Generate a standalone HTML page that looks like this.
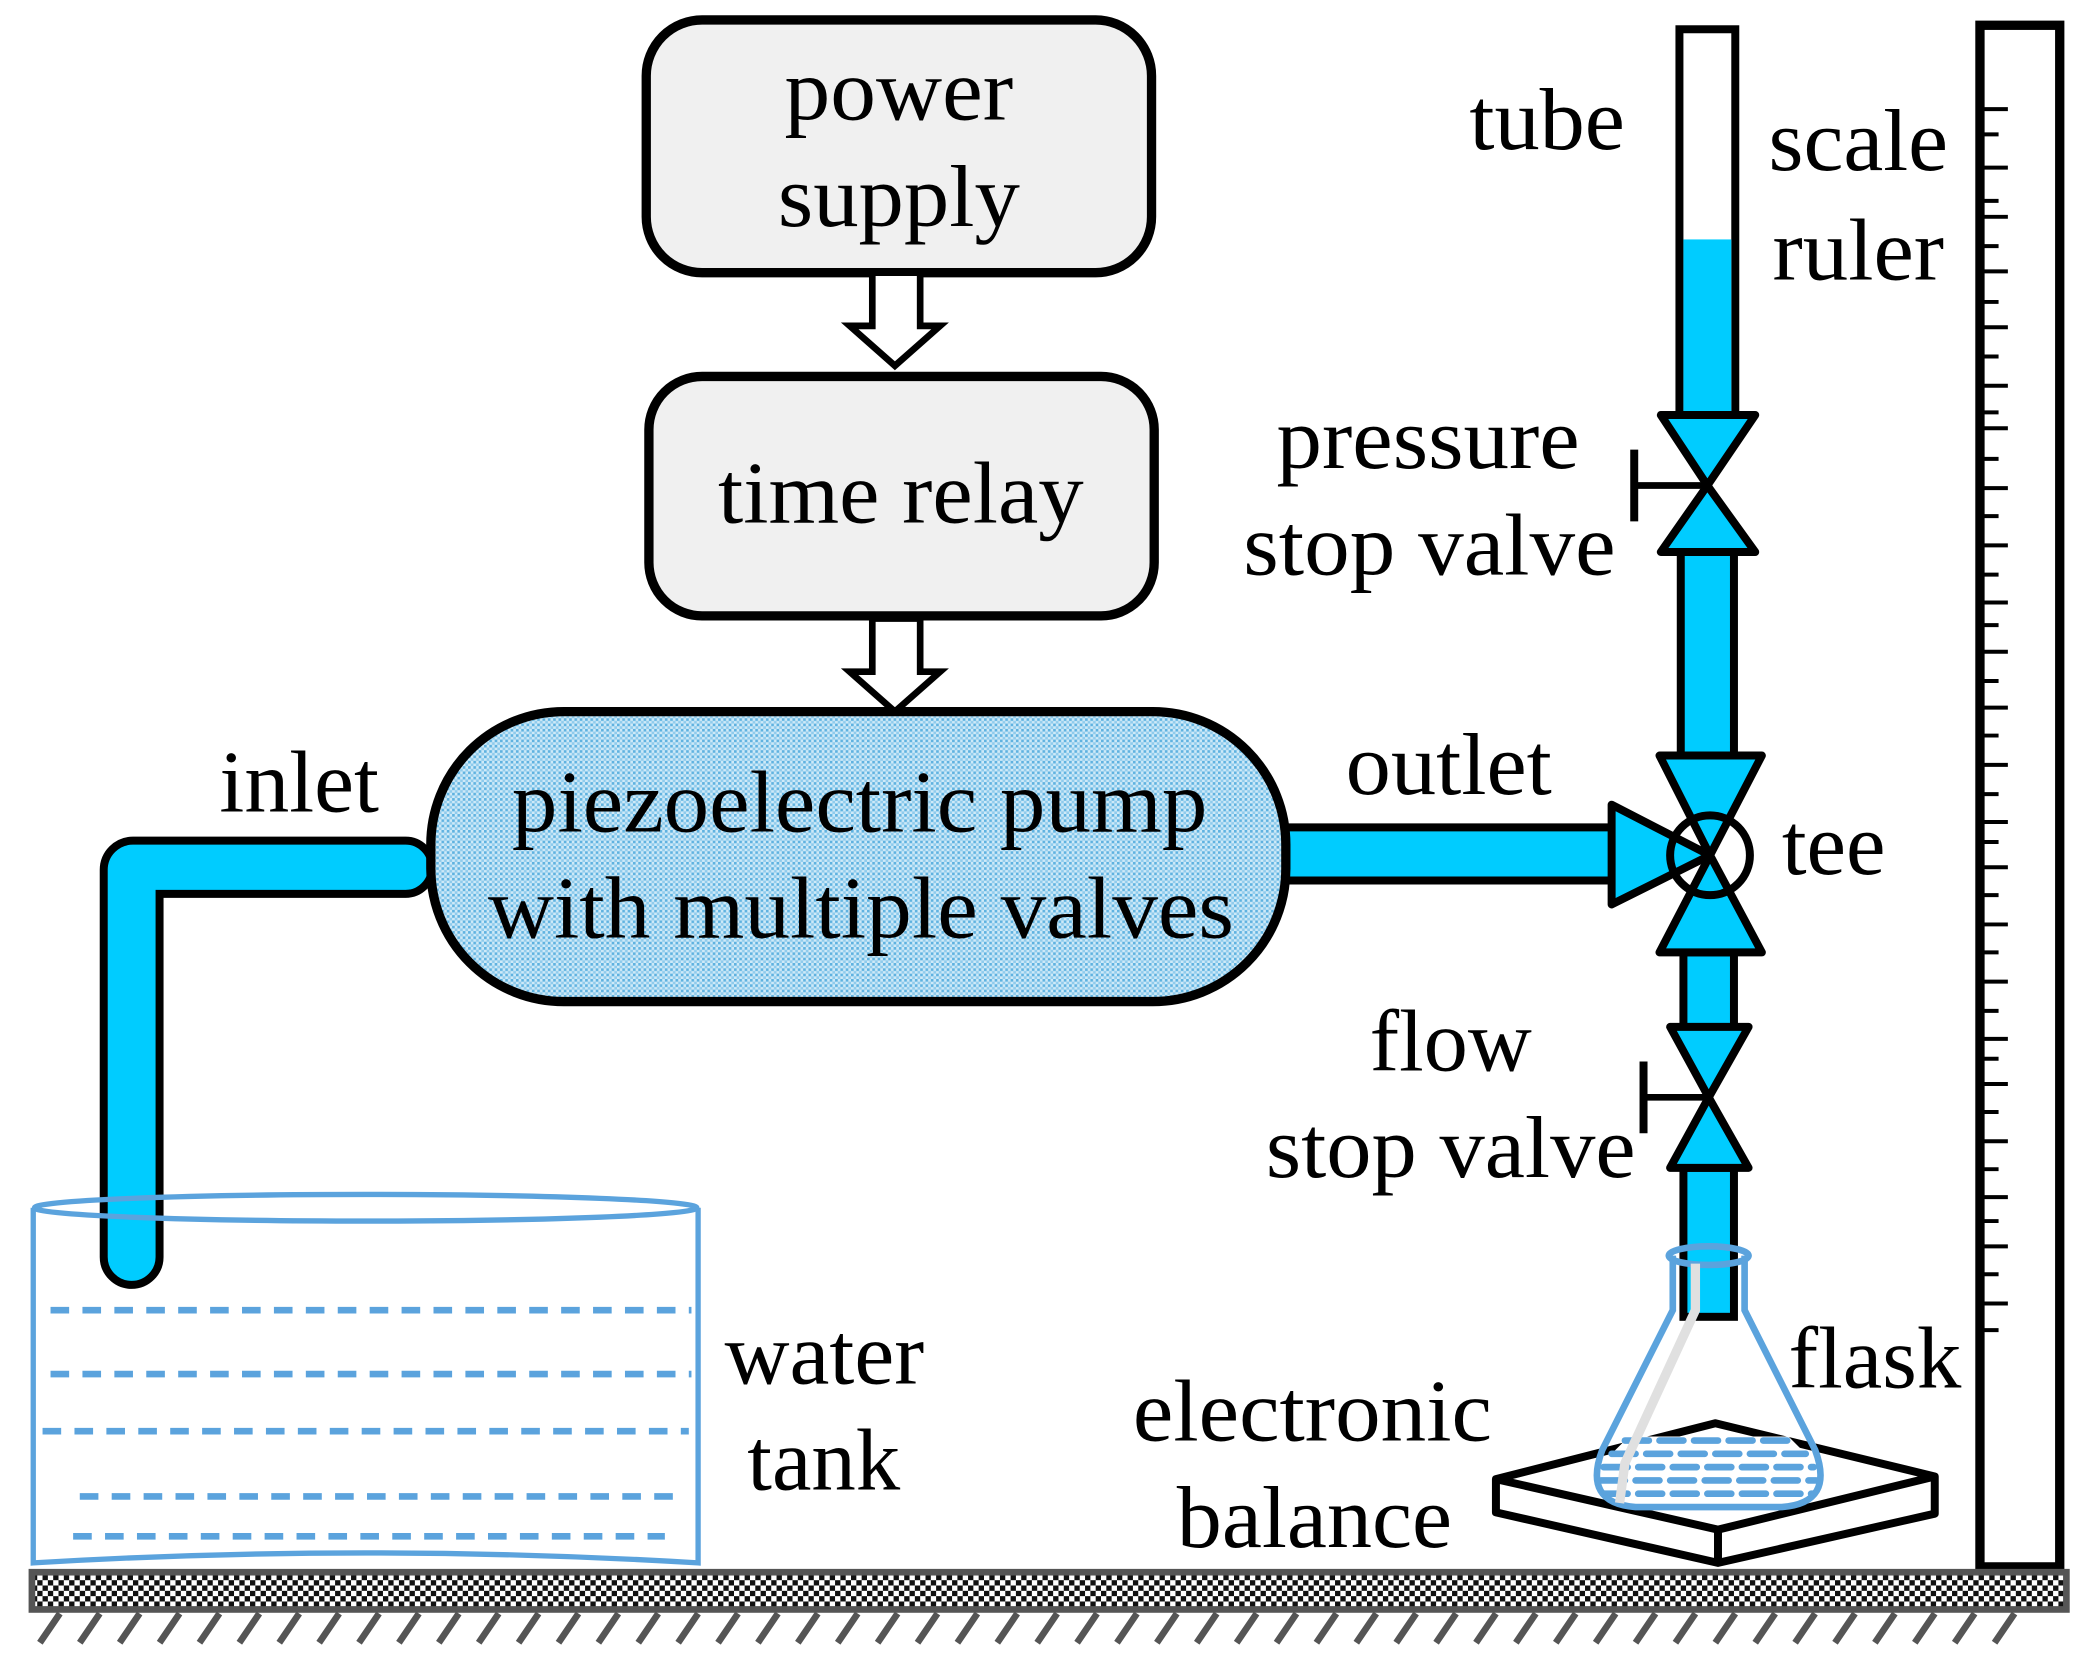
<!DOCTYPE html>
<html><head><style>html,body{margin:0;padding:0;background:#fff}svg{display:block}text{font-family:"Liberation Serif",serif;font-size:66px;fill:#000}</style></head>
<body>
<svg width="2085" height="1660" viewBox="0 0 1568 1248" preserveAspectRatio="none" xmlns="http://www.w3.org/2000/svg">
<defs>
<pattern id="dots" width="4" height="4" patternUnits="userSpaceOnUse"><rect width="4" height="4" fill="#cfeaf8"/><rect width="2" height="2" fill="#5fb2e0"/><rect x="2" y="2" width="2" height="2" fill="#8fcbec"/></pattern>
<pattern id="check" width="8" height="8" patternUnits="userSpaceOnUse"><rect width="8" height="8" fill="#fff"/><rect width="4" height="4" fill="#111"/><rect x="4" y="4" width="4" height="4" fill="#111"/></pattern>
</defs>
<rect x="486" y="15" width="380" height="190" rx="42" fill="#f0f0f0" stroke="#000" stroke-width="7"/>
<text x="590" y="90" textLength="172" lengthAdjust="spacingAndGlyphs">power</text>
<text x="585" y="170" textLength="182" lengthAdjust="spacingAndGlyphs">supply</text>
<polygon points="656,205 692,205 692,245 707,245 673,275 639,245 656,245" fill="#fff" stroke="#000" stroke-width="5"/>
<rect x="488" y="283" width="380" height="180" rx="40" fill="#f0f0f0" stroke="#000" stroke-width="7"/>
<text x="540" y="393" textLength="275" lengthAdjust="spacingAndGlyphs">time relay</text>
<polygon points="656,465 692,465 692,505 707,505 673,535 639,505 656,505" fill="#fff" stroke="#000" stroke-width="5"/>
<path d="M120,945 L120,672 L305,672 A20,20 0 0 0 305,632 L100,632 A22,22 0 0 0 78,654 L78,945 A21,21 0 0 0 120,945 Z" fill="#00ccff" stroke="#000" stroke-width="6"/>
<text x="165" y="610" textLength="120" lengthAdjust="spacingAndGlyphs">inlet</text>
<rect x="955" y="622" width="262" height="40" rx="6" fill="#00ccff" stroke="#000" stroke-width="6"/>
<rect x="324" y="535" width="643" height="218" rx="100" fill="url(#dots)" stroke="#000" stroke-width="7"/>
<text x="385" y="625" textLength="523" lengthAdjust="spacingAndGlyphs">piezoelectric pump</text>
<text x="367" y="705" textLength="561" lengthAdjust="spacingAndGlyphs">with multiple valves</text>
<text x="1012" y="597" textLength="155" lengthAdjust="spacingAndGlyphs">outlet</text>
<rect x="1263" y="22" width="42" height="290" fill="#fff" stroke="#000" stroke-width="6"/>
<rect x="1266" y="180" width="36" height="130" fill="#00ccff"/>
<rect x="1264" y="415" width="40" height="155" fill="#00ccff" stroke="#000" stroke-width="6"/>
<rect x="1266" y="716" width="38" height="58" fill="#00ccff" stroke="#000" stroke-width="6"/>
<rect x="1266" y="878" width="38" height="112" fill="#00ccff" stroke="#000" stroke-width="6"/>
<polygon points="1249,312 1320,312 1284,365" fill="#00ccff" stroke="#000" stroke-width="6" stroke-linejoin="round"/>
<polygon points="1249,415 1320,415 1284,365" fill="#00ccff" stroke="#000" stroke-width="6" stroke-linejoin="round"/>
<line x1="1229" y1="365" x2="1284" y2="365" stroke="#000" stroke-width="5"/>
<line x1="1229" y1="338" x2="1229" y2="392" stroke="#000" stroke-width="6"/>
<polygon points="1248,568 1325,568 1286,643" fill="#00ccff" stroke="#000" stroke-width="6" stroke-linejoin="round"/>
<polygon points="1248,716 1325,716 1286,643" fill="#00ccff" stroke="#000" stroke-width="6" stroke-linejoin="round"/>
<polygon points="1212,605 1212,680 1286,643" fill="#00ccff" stroke="#000" stroke-width="6" stroke-linejoin="round"/>
<circle cx="1286" cy="643" r="30" fill="none" stroke="#000" stroke-width="6"/>
<text x="1340" y="657" textLength="78" lengthAdjust="spacingAndGlyphs">tee</text>
<polygon points="1256,772 1315,772 1285,825" fill="#00ccff" stroke="#000" stroke-width="6" stroke-linejoin="round"/>
<polygon points="1256,878 1315,878 1285,825" fill="#00ccff" stroke="#000" stroke-width="6" stroke-linejoin="round"/>
<line x1="1236" y1="825" x2="1285" y2="825" stroke="#000" stroke-width="5"/>
<line x1="1236" y1="798" x2="1236" y2="852" stroke="#000" stroke-width="6"/>
<rect x="1489" y="19" width="60" height="1159" fill="#fff" stroke="#000" stroke-width="7"/>
<g stroke="#000" stroke-width="3">
<line x1="1489" y1="82" x2="1510" y2="82"/><line x1="1489" y1="101" x2="1503" y2="101"/><line x1="1489" y1="126" x2="1510" y2="126"/><line x1="1489" y1="151" x2="1503" y2="151"/><line x1="1489" y1="163" x2="1510" y2="163"/><line x1="1489" y1="185" x2="1503" y2="185"/><line x1="1489" y1="204" x2="1510" y2="204"/><line x1="1489" y1="227" x2="1503" y2="227"/><line x1="1489" y1="246" x2="1510" y2="246"/><line x1="1489" y1="268" x2="1503" y2="268"/><line x1="1489" y1="290" x2="1510" y2="290"/><line x1="1489" y1="310" x2="1503" y2="310"/><line x1="1489" y1="322" x2="1510" y2="322"/><line x1="1489" y1="345" x2="1503" y2="345"/><line x1="1489" y1="367" x2="1510" y2="367"/><line x1="1489" y1="388" x2="1503" y2="388"/><line x1="1489" y1="410" x2="1510" y2="410"/><line x1="1489" y1="432" x2="1503" y2="432"/>
<line x1="1489" y1="453" x2="1510" y2="453"/><line x1="1489" y1="470" x2="1503" y2="470"/><line x1="1489" y1="490" x2="1510" y2="490"/><line x1="1489" y1="512" x2="1503" y2="512"/><line x1="1489" y1="532" x2="1510" y2="532"/><line x1="1489" y1="553" x2="1503" y2="553"/><line x1="1489" y1="575" x2="1510" y2="575"/><line x1="1489" y1="597" x2="1503" y2="597"/><line x1="1489" y1="618" x2="1510" y2="618"/><line x1="1489" y1="633" x2="1503" y2="633"/><line x1="1489" y1="652" x2="1510" y2="652"/><line x1="1489" y1="673" x2="1503" y2="673"/><line x1="1489" y1="695" x2="1510" y2="695"/><line x1="1489" y1="716" x2="1503" y2="716"/><line x1="1489" y1="738" x2="1510" y2="738"/><line x1="1489" y1="760" x2="1503" y2="760"/><line x1="1489" y1="781" x2="1510" y2="781"/><line x1="1489" y1="796" x2="1503" y2="796"/>
<line x1="1489" y1="815" x2="1510" y2="815"/><line x1="1489" y1="836" x2="1503" y2="836"/><line x1="1489" y1="858" x2="1510" y2="858"/><line x1="1489" y1="879" x2="1503" y2="879"/><line x1="1489" y1="900" x2="1510" y2="900"/><line x1="1489" y1="918" x2="1503" y2="918"/><line x1="1489" y1="937" x2="1510" y2="937"/><line x1="1489" y1="958" x2="1503" y2="958"/><line x1="1489" y1="980" x2="1510" y2="980"/><line x1="1489" y1="1000" x2="1503" y2="1000"/>
</g>
<polygon points="1125,1112 1290,1070 1455,1110 1455,1138 1292,1175 1125,1137" fill="#fff" stroke="#000" stroke-width="6" stroke-linejoin="round"/>
<polyline points="1125,1112 1292,1150 1455,1110" fill="none" stroke="#000" stroke-width="6"/>
<line x1="1292" y1="1150" x2="1292" y2="1175" stroke="#000" stroke-width="6"/>
<path d="M1225,1080 L1345,1080 L1365,1100 Q1372,1130 1340,1133 L1230,1133 Q1198,1130 1205,1100 Z" fill="#fff"/>
<g stroke="#5ba3dd" stroke-width="5" stroke-dasharray="18,8" stroke-linecap="round">
<line x1="1222" y1="1083" x2="1348" y2="1083"/><line x1="1212" y1="1093" x2="1358" y2="1093"/><line x1="1206" y1="1103" x2="1364" y2="1103"/><line x1="1204" y1="1113" x2="1366" y2="1113"/><line x1="1206" y1="1123" x2="1364" y2="1123"/>
</g>
<path d="M1258,944 L1258,985 L1205,1090 Q1190,1130 1230,1133 L1340,1133 Q1380,1130 1365,1090 L1312,985 L1312,944" fill="none" stroke="#5ba3dd" stroke-width="5"/>
<ellipse cx="1285" cy="944" rx="30" ry="7" fill="none" stroke="#5ba3dd" stroke-width="5"/>
<path d="M1275,950 L1275,985 L1222,1100 L1218,1130" fill="none" stroke="#e0e0e0" stroke-width="7"/>
<g stroke="#5ba3dd" stroke-width="4" fill="none">
<ellipse cx="275" cy="908" rx="249" ry="10"/>
<path d="M25,908 L25,1175 Q275,1160 525,1175 L525,908"/>
<g stroke-dasharray="14,10" stroke-width="5">
<line x1="38" y1="985" x2="520" y2="985"/><line x1="38" y1="1033" x2="520" y2="1033"/><line x1="32" y1="1076" x2="518" y2="1076"/><line x1="60" y1="1125" x2="510" y2="1125"/><line x1="55" y1="1155" x2="500" y2="1155"/>
</g></g>
<text x="545" y="1040" textLength="150" lengthAdjust="spacingAndGlyphs">water</text>
<text x="562" y="1120" textLength="115" lengthAdjust="spacingAndGlyphs">tank</text>
<rect x="24" y="1182" width="1530" height="28" fill="url(#check)" stroke="#555" stroke-width="5"/>
<g stroke="#555" stroke-width="5">
<path d="M30,1235 L45,1213 M60,1235 L75,1213 M90,1235 L105,1213 M120,1235 L135,1213 M150,1235 L165,1213 M180,1235 L195,1213 M210,1235 L225,1213 M240,1235 L255,1213 M270,1235 L285,1213 M300,1235 L315,1213 M330,1235 L345,1213 M360,1235 L375,1213 M390,1235 L405,1213 M420,1235 L435,1213 M450,1235 L465,1213 M480,1235 L495,1213 M510,1235 L525,1213 M540,1235 L555,1213 M570,1235 L585,1213 M600,1235 L615,1213 M630,1235 L645,1213 M660,1235 L675,1213 M690,1235 L705,1213 M720,1235 L735,1213 M750,1235 L765,1213 M780,1235 L795,1213 M810,1235 L825,1213 M840,1235 L855,1213 M870,1235 L885,1213 M900,1235 L915,1213 M930,1235 L945,1213 M960,1235 L975,1213 M990,1235 L1005,1213 M1020,1235 L1035,1213 M1050,1235 L1065,1213 M1080,1235 L1095,1213 M1110,1235 L1125,1213 M1140,1235 L1155,1213 M1170,1235 L1185,1213 M1200,1235 L1215,1213 M1230,1235 L1245,1213 M1260,1235 L1275,1213 M1290,1235 L1305,1213 M1320,1235 L1335,1213 M1350,1235 L1365,1213 M1380,1235 L1395,1213 M1410,1235 L1425,1213 M1440,1235 L1455,1213 M1470,1235 L1485,1213 M1500,1235 L1515,1213"/>
</g>
<text x="1105" y="112" textLength="117" lengthAdjust="spacingAndGlyphs">tube</text>
<text x="1330" y="128" textLength="135" lengthAdjust="spacingAndGlyphs">scale</text>
<text x="1333" y="210" textLength="129" lengthAdjust="spacingAndGlyphs">ruler</text>
<text x="960" y="352" textLength="228" lengthAdjust="spacingAndGlyphs">pressure</text>
<text x="935" y="432" textLength="280" lengthAdjust="spacingAndGlyphs">stop valve</text>
<text x="1030" y="805" textLength="122" lengthAdjust="spacingAndGlyphs">flow</text>
<text x="952" y="885" textLength="278" lengthAdjust="spacingAndGlyphs">stop valve</text>
<text x="1345" y="1043" textLength="130" lengthAdjust="spacingAndGlyphs">flask</text>
<text x="852" y="1083" textLength="270" lengthAdjust="spacingAndGlyphs">electronic</text>
<text x="885" y="1163" textLength="207" lengthAdjust="spacingAndGlyphs">balance</text>
</svg>
</body></html>
